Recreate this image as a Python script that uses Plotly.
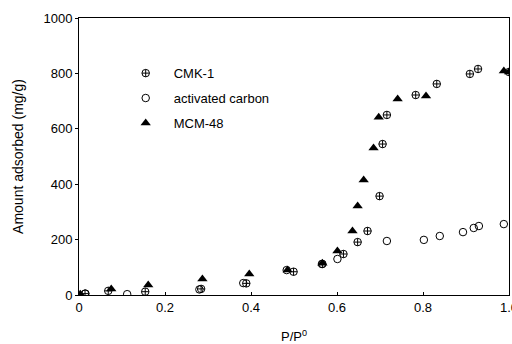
import plotly.graph_objects as go

# CMK-1
cmk_x = [0.014, 0.068, 0.154, 0.284, 0.389, 0.499, 0.566, 0.615, 0.648, 0.671, 0.699, 0.706, 0.716, 0.783, 0.832, 0.909, 0.928, 1.0]
cmk_y = [5, 15, 12, 22, 42, 84, 112, 148, 191, 231, 357, 545, 650, 722, 762, 798, 816, 805]
# activated carbon
ac_x = [0.015, 0.112, 0.280, 0.382, 0.483, 0.565, 0.601, 0.716, 0.802, 0.839, 0.893, 0.918, 0.930, 0.988]
ac_y = [5, 3, 20, 43, 90, 112, 130, 195, 199, 213, 227, 242, 249, 256]
# MCM-48
mcm_x = [0.003, 0.075, 0.161, 0.287, 0.396, 0.485, 0.566, 0.601, 0.636, 0.648, 0.662, 0.685, 0.697, 0.741, 0.807, 0.988, 1.0]
mcm_y = [3, 22, 36, 58, 76, 90, 115, 159, 231, 321, 415, 531, 642, 708, 718, 809, 805]

x_ticks = [0, 0.2, 0.4, 0.6, 0.8, 1.0]
x_ticktext = ["0", "0.2", "0.4", "0.6", "0.8", "1.0"]
y_ticks = [0, 200, 400, 600, 800, 1000]

FONT = "Arial, Liberation Sans, sans-serif"

fig = go.Figure()
fig.add_trace(go.Scatter(x=cmk_x, y=cmk_y, mode="markers", name="CMK-1", legendgroup="a",
                         marker=dict(symbol="circle-cross-open", size=7.5, color="black", line=dict(width=1))))
fig.add_trace(go.Scatter(x=ac_x, y=ac_y, mode="markers", name="activated carbon", legendgroup="b",
                         marker=dict(symbol="circle-open", size=7.5, color="black", line=dict(width=1))))
fig.add_trace(go.Scatter(x=mcm_x, y=mcm_y, mode="markers", name="MCM-48", legendgroup="c",
                         marker=dict(symbol="triangle-up", size=9, color="black")))

fig.update_layout(
    width=512, height=344,
    margin=dict(l=79, r=3, t=18, b=49, autoexpand=False),
    paper_bgcolor="white", plot_bgcolor="white",
    font=dict(family=FONT, size=13, color="black"),
    showlegend=True,
    legend=dict(x=0.09, y=0.855, xanchor="left", yanchor="top", bgcolor="rgba(0,0,0,0)",
                font=dict(size=13), tracegroupgap=5, itemwidth=46),
    xaxis=dict(range=[0, 1.0], tickvals=x_ticks, ticktext=x_ticktext, automargin=False,
               showline=True, linecolor="black", linewidth=1, mirror=True,
               ticks="inside", ticklen=3, tickcolor="black", showgrid=False, zeroline=False,
               ticklabeloverflow="allow", tickfont=dict(size=13),
               title=dict(text="P/P<sup>0</sup>", standoff=22, font=dict(size=13))),
    yaxis=dict(range=[0, 1000], tickvals=y_ticks, automargin=False,
               showline=True, linecolor="black", linewidth=1, mirror=True,
               ticks="outside", ticklen=3, tickcolor="black", showgrid=False, zeroline=False,
               tickfont=dict(size=13),
               title=dict(text="Amount adsorbed (mg/g)", standoff=16, font=dict(size=14))),
)

fig.write_html("out.html")
